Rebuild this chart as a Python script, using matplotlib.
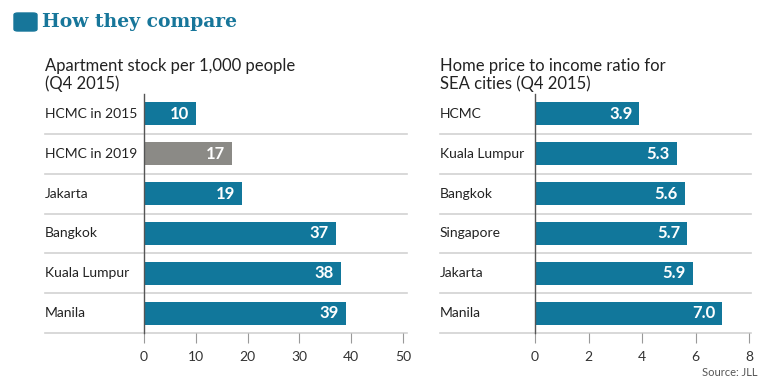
import matplotlib.pyplot as plt
from matplotlib.patches import FancyBboxPatch

plt.rcParams['font.family'] = ['Lato', 'DejaVu Sans']

left_cities = ['HCMC in 2015', 'HCMC in 2019', 'Jakarta', 'Bangkok', 'Kuala Lumpur', 'Manila']
left_values = [10, 17, 19, 37, 38, 39]
left_labels = ['10', '17', '19', '37', '38', '39']

right_cities = ['HCMC', 'Kuala Lumpur', 'Bangkok', 'Singapore', 'Jakarta', 'Manila']
right_values = [3.9, 5.3, 5.6, 5.7, 5.9, 7.0]
right_labels = ['3.9', '5.3', '5.6', '5.7', '5.9', '7.0']

teal = '#11779b'
grey = '#8b8a86'
text_c = '#222222'
line_c = '#d2d2d2'

W, H = 768, 378
fig = plt.figure(figsize=(W / 100, H / 100), dpi=100)


def px_axes(x0, x1, y0, y1):
    return fig.add_axes([x0 / W, 1 - y1 / H, (x1 - x0) / W, (y1 - y0) / H])


def panel(ax, cities, values, labels, colors, xmax, step, label_x, sep_right):
    n = len(cities)
    ax.barh(range(n), values, height=0.58, color=colors, zorder=2)
    ax.set_ylim(n - 0.5, -0.5)
    ax.set_xlim(0, xmax)
    for s in ['top', 'right', 'bottom']:
        ax.spines[s].set_visible(False)
    ax.spines['left'].set_color('#555555')
    ax.spines['left'].set_linewidth(1.0)
    ax.set_yticks([])
    ax.set_xticks(range(0, xmax + 1, step))
    ax.tick_params(axis='x', length=7, width=0.8, color='#999999',
                   labelsize=10, labelcolor='#333333', pad=6)
    # row separators (extend under the category labels)
    for i in range(n):
        ax.axhline(i + 0.5, xmin=label_x, xmax=sep_right, color=line_c,
                   lw=1.2, clip_on=False, zorder=1)
    for i, (c, v, lab) in enumerate(zip(cities, values, labels)):
        ax.text(label_x, i, c, transform=ax.get_yaxis_transform(),
                ha='left', va='center', fontsize=10, color=text_c)
        ax.annotate(lab, (v, i), xytext=(-5, 0), textcoords='offset points',
                    ha='right', va='center', color='white',
                    fontsize=12, fontweight='bold', zorder=3)


ax1 = px_axes(144, 403, 94, 333)
panel(ax1, left_cities, left_values, left_labels,
      [teal, grey, teal, teal, teal, teal], 50, 10,
      (45 - 144) / (403 - 144), 1.015)

ax2 = px_axes(535, 749, 94, 333)
panel(ax2, right_cities, right_values, right_labels,
      [teal] * 6, 8, 2, (440 - 535) / (749 - 535), 1.01)

# header
fig.patches.append(FancyBboxPatch((14 / W, 1 - 31 / H), 23 / W, 18 / H,
                                  boxstyle='round,pad=0,rounding_size=0.005',
                                  transform=fig.transFigure, color='#17769a'))
fig.text(42 / W, 1 - 22 / H, 'How they compare', family='DejaVu Serif',
         fontweight='bold', fontsize=13.5, color='#17769a', va='center', ha='left')

fig.text(45 / W, 1 - 75 / H, 'Apartment stock per 1,000 people\n(Q4 2015)',
         fontsize=12, color=text_c, va='center', ha='left', linespacing=1.1)
fig.text(440 / W, 1 - 75 / H, 'Home price to income ratio for\nSEA cities (Q4 2015)',
         fontsize=12, color=text_c, va='center', ha='left', linespacing=1.1)

fig.text(757 / W, 1 - 372 / H, 'Source: JLL', fontsize=8, color='#555555',
         ha='right', va='center')

fig.savefig('out.png', dpi=100)
